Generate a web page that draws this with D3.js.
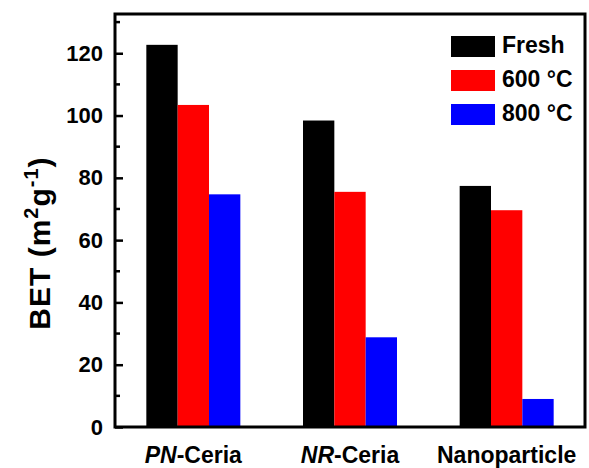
<!DOCTYPE html>
<html>
<head>
<meta charset="utf-8">
<script src="https://cdn.jsdelivr.net/npm/d3@7"></script>
<style>
  body { margin: 0; background: #fff; }
  text { font-family: "Liberation Sans", Arial, sans-serif; font-weight: bold; fill: #000; }
</style>
</head>
<body>
<script>
const width  = 589;
const height = 468;
const margin = {top: 14, right: 4, bottom: 41, left: 115};

const samples = ['PN-Ceria', 'NR-Ceria', 'Nanoparticle'];
const series  = ['Fresh', '600 °C', '800 °C'];
const fresh   = [122.7, 98.4, 77.4];
const t600    = [103.4, 75.5, 69.6];
const t800    = [74.7, 28.8, 9.0];
const yTicks  = [0, 20, 40, 60, 80, 100, 120];
const colors  = ['#000000', '#ff0000', '#0000ff'];

const values = [fresh, t600, t800];

const svg = d3.select('body').append('svg')
  .attr('width', width)
  .attr('height', height);

const x0 = d3.scaleBand()
  .domain(samples)
  .range([margin.left, width - margin.right])
  .paddingInner(0.4)
  .paddingOuter(0.2);

const x1 = d3.scaleBand()
  .domain(series)
  .range([0, x0.bandwidth()]);

const y = d3.scaleLinear()
  .domain([0, 132.6])
  .range([height - margin.bottom, margin.top]);

const color = d3.scaleOrdinal().domain(series).range(colors);

// bars
samples.forEach((s, i) => {
  const g = svg.append('g').attr('transform', 'translate(' + x0(s) + ',0)');
  series.forEach((k, j) => {
    g.append('rect')
      .attr('x', x1(k))
      .attr('width', x1.bandwidth())
      .attr('y', y(values[j][i]))
      .attr('height', y(0) - y(values[j][i]))
      .attr('fill', color(k));
  });
});

// frame
svg.append('rect')
  .attr('x', margin.left)
  .attr('y', margin.top)
  .attr('width', width - margin.right - margin.left)
  .attr('height', height - margin.bottom - margin.top)
  .attr('fill', 'none')
  .attr('stroke', '#000')
  .attr('stroke-width', 3);

// y axis (ticks point inward)
const yAxis = d3.axisLeft(y)
  .tickValues(yTicks)
  .tickSizeInner(-8)
  .tickSizeOuter(0)
  .tickPadding(12);

const gy = svg.append('g')
  .attr('transform', 'translate(' + margin.left + ',0)')
  .call(yAxis);
gy.select('.domain').remove();
gy.selectAll('.tick line').attr('stroke-width', 2.5);
gy.selectAll('.tick text').style('font-size', '22px').attr('x', -12);

const minor = d3.range(10, 131, 20);
svg.append('g').selectAll('line')
  .data(minor)
  .enter().append('line')
  .attr('x1', margin.left)
  .attr('x2', margin.left + 5)
  .attr('y1', d => y(d))
  .attr('y2', d => y(d))
  .attr('stroke', '#000')
  .attr('stroke-width', 2.5);

// x labels
const xl = svg.append('g').selectAll('text')
  .data(samples)
  .enter().append('text')
  .attr('x', d => x0(d) + x0.bandwidth() / 2)
  .attr('y', 463)
  .attr('text-anchor', 'middle')
  .style('font-size', '23px');
xl.each(function(d) {
  const t = d3.select(this);
  const m = d.match(/^(PN|NR)(-.*)$/);
  if (m) {
    t.append('tspan').style('font-style', 'italic').text(m[1]);
    t.append('tspan').text(m[2]);
  } else {
    t.text(d);
  }
});

// y label
const yl = svg.append('text')
  .attr('transform', 'translate(50,243) rotate(-90)')
  .attr('text-anchor', 'middle')
  .style('font-size', '30px')
  .style('letter-spacing', '1px');
yl.append('tspan').text('BET (m');
yl.append('tspan').attr('dy', -12).style('font-size', '20px').text('2');
yl.append('tspan').attr('dy', 12).text('g');
yl.append('tspan').attr('dy', -12).style('font-size', '20px').text('-1');
yl.append('tspan').attr('dy', 12).text(')');

// legend
const lg = svg.append('g').selectAll('g')
  .data(series)
  .enter().append('g')
  .attr('transform', (d, i) => 'translate(451,' + (36 + i * 34) + ')');
lg.append('rect')
  .attr('width', 44)
  .attr('height', 21)
  .attr('fill', d => color(d));
lg.append('text')
  .attr('x', 51)
  .attr('y', 17)
  .style('font-size', '23px')
  .text(d => d);
</script>
</body>
</html>
